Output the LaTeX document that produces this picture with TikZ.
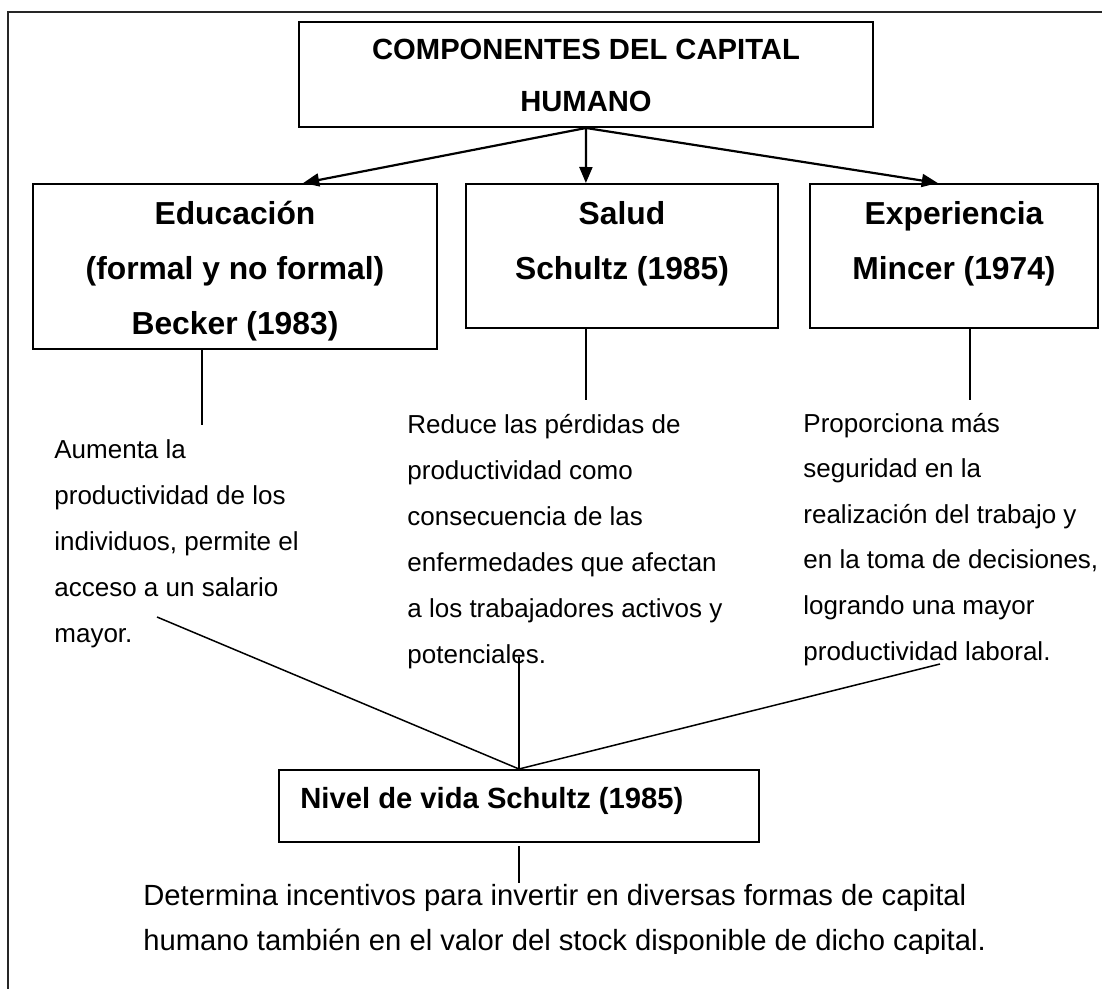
\documentclass[tikz,border=0pt]{standalone}
\usepackage{fontspec}
\setmainfont{Liberation Sans}
\usetikzlibrary{calc}
\usetikzlibrary{arrows.meta}

\begin{document}
\begin{tikzpicture}[x=0.5pt, y=-0.5pt,
        box/.style={rectangle, draw=black, line width=1pt, inner sep=0pt},
        head/.style={font=\fontsize{15.9}{19}\selectfont\bfseries, inner sep=0pt, anchor=base},
        title/.style={font=\fontsize{14.6}{17}\selectfont\bfseries, inner sep=0pt},
        body/.style={font=\fontsize{13}{15}\selectfont, inner sep=0pt, anchor=base west},
        big/.style={font=\fontsize{14.6}{17}\selectfont, inner sep=0pt, anchor=base west},
        arr/.style={-{Triangle[length=8pt, width=6.5pt]}, line width=1.1pt},
        link/.style={line width=0.75pt}]
    \useasboundingbox (0,0) rectangle (1102,989);
    \draw[line width=1pt, black!85] (1102,12) -- (8,12) -- (8,989);

    % boxes
    \node[box, minimum width=287pt, minimum height=52.5pt] (comp) at (586,74.5) {};
    \node[box, minimum width=202pt, minimum height=82.5pt] (edu) at (235,266.5) {};
    \node[box, minimum width=156pt, minimum height=72pt] (salud) at (622,256) {};
    \node[box, minimum width=144pt, minimum height=72pt] (exp) at (954,256) {};
    \node[box, minimum width=240pt, minimum height=36pt] (nivel) at (519,806) {};

    % box texts
    \node[title, anchor=base] (comp-1) at (586,60) {COMPONENTES DEL CAPITAL};
    \node[title, anchor=base] (comp-2) at (586,112) {HUMANO};
    \foreach \t [count=\i from 0] in {Educación, (formal y no formal), Becker (1983)}
        \node[head] (edu-\i) at (235, {225+55*\i}) {\t};
    \foreach \t [count=\i from 0] in {Salud, Schultz (1985)}
        \node[head] (salud-\i) at (622, {225+55*\i}) {\t};
    \foreach \t [count=\i from 0] in {Experiencia, Mincer (1974)}
        \node[head] (exp-\i) at (954, {225+55*\i}) {\t};
    \node[title, anchor=base west] (nivel-1) at (300,808) {Nivel de vida Schultz (1985)};

    % arrows
    \draw[arr] (comp.south) -- ($(edu.north west)!0.668!(edu.north east)$);
    \draw[arr] (comp.south) -- ($(salud.north west)!0.385!(salud.north east)$);
    \draw[arr] (comp.south) -- ($(exp.north west)!0.444!(exp.north east)$);

    % drops
    \coordinate (edudrop) at (202,425);
    \coordinate (saluddrop) at (586,400);
    \coordinate (expdrop) at (970,400);
    \draw[link] (edu.south -| edudrop) -- (edudrop);
    \draw[link] (salud.south -| saluddrop) -- (saluddrop);
    \draw[link] (exp.south -| expdrop) -- (expdrop);

    % texts
    \foreach \t [count=\i from 0] in {Aumenta la, productividad de los, {individuos, permite el}, acceso a un salario, mayor.}
        \node[body] (edutxt-\i) at (54, {458+46*\i}) {\t};
    \foreach \t [count=\i from 0] in {Reduce las pérdidas de, productividad como, consecuencia de las, enfermedades que afectan, a los trabajadores activos y, potenciales.}
        \node[body] (saludtxt-\i) at (407, {433+46*\i}) {\t};
    \foreach \t [count=\i from 0] in {Proporciona más, seguridad en la, realización del trabajo y, {en la toma de decisiones,}, logrando una mayor, productividad laboral.}
        \node[body] (exptxt-\i) at (803, {432+45.6*\i}) {\t};

    % to nivel
    \coordinate (edufoot) at (157,617);
    \coordinate (saludfoot) at (519,657);
    \coordinate (expfoot) at (940,664);
    \draw[link] (edufoot) -- (nivel.north);
    \draw[link] (saludfoot) -- (nivel.north);
    \draw[link] (expfoot) -- (nivel.north);

    \coordinate (nivdrop) at (519,883);
    \draw[link] ($(nivel.south)+(0,3)$) -- (nivdrop);
    \begin{scope}
        \clip (0,0) rectangle (1102,953);
        \node[big] (det-1) at (143,905) {Determina incentivos para invertir en diversas formas de capital};
        \node[big] (det-2) at (143,950) {humano también en el valor del stock disponible de dicho capital.};
    \end{scope}
\end{tikzpicture}
\end{document}
